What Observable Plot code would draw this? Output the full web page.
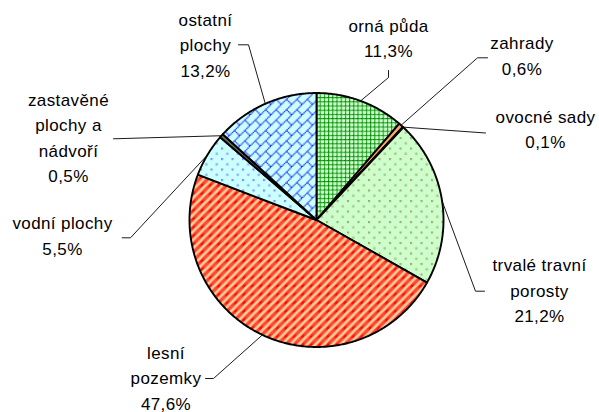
<!DOCTYPE html>
<html><head><meta charset="utf-8">
<script src="https://cdn.jsdelivr.net/npm/d3@7"></script>
<script src="https://cdn.jsdelivr.net/npm/@observablehq/plot@0.6"></script>
<style>html,body{margin:0;padding:0;background:#fff}</style>
</head><body><div id="chart"></div>
<script>
// ---- data ----
const categories = ["orná půda", "zahrady", "ovocné sady", "trvalé travní\nporosty", "lesní\npozemky", "vodní plochy", "zastavěné\nplochy a\nnádvoří", "ostatní\nplochy"];
const values = [11.3, 0.6, 0.1, 21.2, 47.6, 5.5, 0.5, 13.2];

// ---- styles (fills per slice) ----
const fills = ["url(#p-grid)", "#ffa46f", "#ffe0a0", "url(#p-dots-green)", "url(#p-wide-diag)", "url(#p-dots-blue)", "#6a6a6a", "url(#p-brick)"];

// ---- layout ----
const W = 599, H = 412;
const pie = {cx: 316, cy: 219.5, r: 127};
// label anchor (center x, baseline of last line) and leader-line points on the label side
const labelX = [388, 521.5, 545, 539, 165.5, 62, 68, 205];
const labelY = [56.5, 74, 147.5, 321.5, 409, 254, 181.5, 76];
const leaderPts = [
  [[388, 70], [388, 77]],
  [[487, 57.3], [477, 57.3]],
  [[485, 132.5]],
  [[484, 290.7], [475, 290.7]],
  [[205, 378], [213, 378]],
  [[121.7, 237.3], [130, 237.3]],
  [[113, 138.3]],
  [[238, 44.3], [248, 44.3]]
];

const total = d3.sum(values);
const pt = (a, r = pie.r) => ({x: pie.cx + r * Math.sin(a), y: pie.cy - r * Math.cos(a)});
let cum = 0;
const slices = values.map((v, i) => {
  const a0 = cum / total * 2 * Math.PI;
  cum += v;
  const a1 = cum / total * 2 * Math.PI;
  const n = Math.max(2, Math.ceil((a1 - a0) / (Math.PI / 360)));
  const pts = [{x: pie.cx, y: pie.cy}];
  for (let k = 0; k <= n; k++) pts.push(pt(a0 + (a1 - a0) * k / n));
  pts.push({x: pie.cx, y: pie.cy});
  return {i, a0, a1, mid: (a0 + a1) / 2, pts};
});

const leaders = [];
slices.forEach((s, i) => {
  leaderPts[i].forEach(([x, y]) => leaders.push({i, x, y}));
  const m = pt(s.mid);
  leaders.push({i, x: m.x, y: m.y});
});

const fmt = v => v.toFixed(1).replace(".", ",") + "%";
const labels = categories.map((c, i) => ({x: labelX[i], y: labelY[i], text: c + "\n" + fmt(values[i])}));

const svg = Plot.plot({
  width: W, height: H, margin: 0,
  x: {domain: [0, W], range: [0, W], axis: null},
  y: {domain: [0, H], range: [0, H], axis: null},
  style: {background: "#fff", fontFamily: "Arial, 'Liberation Sans', sans-serif", letterSpacing: "0.4px"},
  marks: [
    ...slices.map(s => Plot.line(s.pts, {x: "x", y: "y", fill: fills[s.i], stroke: "black", strokeWidth: 1.9, strokeLinejoin: "round"})),
    Plot.line(leaders, {x: "x", y: "y", z: "i", stroke: "black", strokeWidth: 0.9}),
    Plot.text(labels, {x: "x", y: "y", text: "text", lineAnchor: "bottom", textAnchor: "middle", fontSize: 17, lineHeight: 1.5, fill: "black"})
  ]
});

// ---- bitmap hatch patterns ----
const defs = d3.select(svg).insert("defs", ":first-child");
function bitmap(id, rows, bg, fg, px = 1) {
  const h = rows.length, w = rows[0].length;
  const p = defs.append("pattern").attr("id", id).attr("patternUnits", "userSpaceOnUse")
    .attr("width", w * px).attr("height", h * px);
  p.append("rect").attr("width", w * px).attr("height", h * px).attr("fill", bg);
  rows.forEach((r, y) => [...r].forEach((c, x) => {
    if (c === "1") p.append("rect").attr("x", x * px).attr("y", y * px).attr("width", px).attr("height", px).attr("fill", fg);
  }));
}
bitmap("p-grid", ["1111", "1000", "1000", "1000"], "#ccffcc", "#008a00", 1.05);
bitmap("p-wide-diag", ["10000111", "00001111", "00011110", "00111100", "01111000", "11110000", "11100001", "11000011"], "#ffcc99", "#ff0a00", 1.05);
bitmap("p-brick", ["00000001", "00000010", "00000100", "00001000", "00011000", "00100100", "01000010", "10000001"], "#ccffff", "#1a2aff", 1.3);
bitmap("p-dots-green", ["1100000000", "1100000000", "0000000000", "0000000000", "0000000000", "0000011000", "0000011000", "0000000000", "0000000000", "0000000000"], "#ccffcc", "#a3a85a", 1.05);
bitmap("p-dots-blue", ["1100000000", "1100000000", "0000000000", "0000000000", "0000000000", "0000011000", "0000011000", "0000000000", "0000000000", "0000000000"], "#ccffff", "#6f88ff", 1.05);

document.getElementById("chart").appendChild(svg);
</script></body></html>
